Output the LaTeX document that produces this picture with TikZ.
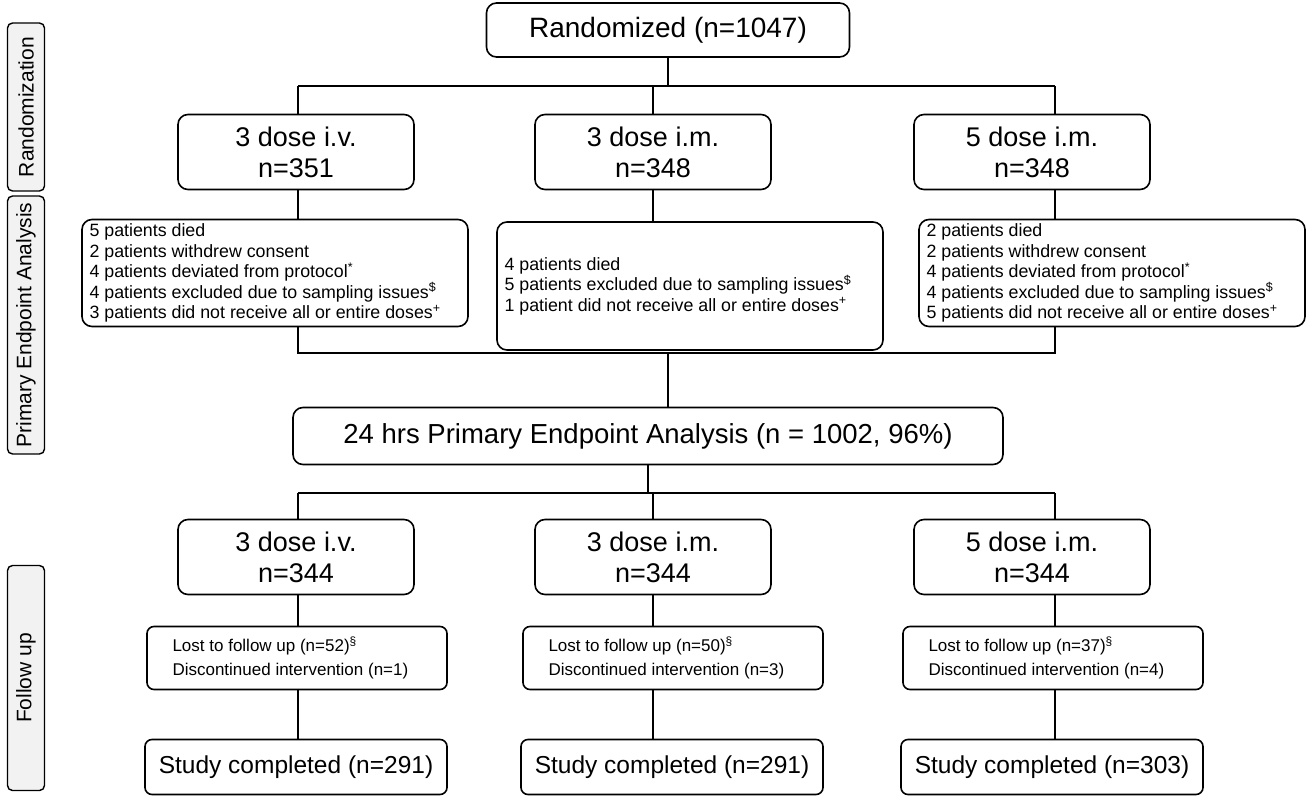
\documentclass[tikz,border=0pt]{standalone}
\usepackage{fontspec}
\setmainfont{Liberation Sans}
\begin{document}
\begin{tikzpicture}[x=1pt,y=-1pt,
  bx/.style={draw,line width=1.6pt,rounded corners=10pt,fill=white},
  side/.style={draw,line width=1.4pt,rounded corners=5pt,fill=gray!10},
  ln/.style={line width=2.6pt},
  big/.style={font=\fontsize{27}{31}\selectfont,align=center},
  sl/.style={rotate=90,font=\fontsize{21}{26}\selectfont},
  ex/.style={font=\fontsize{17.8}{20.5}\selectfont,align=left,anchor=west}]
\useasboundingbox (0,0) rectangle (1311,800);
% side labels
\node[side,minimum width=168,minimum height=37,rotate=90] (s1) at (26,107) {};
\node[sl] (t1) at (26,107) {Randomization};
\node[side,minimum width=258,minimum height=37,rotate=90] (s2) at (26,325) {};
\node[sl] (t2) at (26,325) {Primary Endpoint Analysis};
\node[side,minimum width=225,minimum height=37,rotate=90] (s3) at (26,678) {};
\node[sl] (t3) at (26,678) {Follow up};
% coordinates
\coordinate (j1) at (668,86);
\coordinate (L1) at (298,86); \coordinate (R1) at (1055,86);
\coordinate (j2) at (668,353);
\coordinate (L2) at (298,353); \coordinate (R2) at (1055,353);
\coordinate (j3) at (648,493);
\coordinate (L3) at (298,493); \coordinate (R3) at (1055,493);
\coordinate (M1) at (653,86); \coordinate (M3) at (653,493);
% lines first
\draw[ln] (668,57) -- (j1);
\draw[ln] (L1) -- (R1);
\draw[ln] (L1) -- (298,220); \draw[ln] (M1) -- (653,222); \draw[ln] (R1) -- (1055,220);
\draw[ln] (298,325) -- (L2) -- (R2) -- (1055,325);
\draw[ln] (j2) -- (668,408);
\draw[ln] (648,465) -- (j3);
\draw[ln] (L3) -- (R3);
\draw[ln] (L3) -- (298,767); \draw[ln] (M3) -- (653,767); \draw[ln] (R3) -- (1055,767);
% boxes
\node[bx,minimum width=363,minimum height=54] (rand) at (668,30) {};
\node[font=\fontsize{28}{32}\selectfont] at (rand) {Randomized (n=1047)};
\foreach \n/\x/\t/\m in {a/296/3 dose i.v./351, b/653/3 dose i.m./348, c/1032/5 dose i.m./348}{
  \node[bx,minimum width=236,minimum height=75] (g\n) at (\x,152) {};
  \node[big] at (g\n) {\t\\n=\m};
}
\node[bx,minimum width=386,minimum height=107] (ea) at (275,273) {};
\node[ex] at (86,273) {5 patients died\\2 patients withdrew consent\\4 patients deviated from protocol\textsuperscript{*}\\4 patients excluded due to sampling issues\textsuperscript{\$}\\3 patients did not receive all or entire doses\textsuperscript{+}};
\node[bx,minimum width=386,minimum height=128] (eb) at (690,286) {};
\node[ex] at (501,286) {4 patients died\\5 patients excluded due to sampling issues\textsuperscript{\$}\\1 patient did not receive all or entire doses\textsuperscript{+}};
\node[bx,minimum width=386,minimum height=107] (ec) at (1112,273) {};
\node[ex] at (923,273) {2 patients died\\2 patients withdrew consent\\4 patients deviated from protocol\textsuperscript{*}\\4 patients excluded due to sampling issues\textsuperscript{\$}\\5 patients did not receive all or entire doses\textsuperscript{+}};
\node[bx,minimum width=710,minimum height=57] (pe) at (648,436) {};
\node[font=\fontsize{27.5}{31}\selectfont] at (pe) {24 hrs Primary Endpoint Analysis (n = 1002, 96\%)};
\foreach \n/\x/\t in {a/296/3 dose i.v., b/653/3 dose i.m., c/1032/5 dose i.m.}{
  \node[bx,minimum width=236,minimum height=75] (f\n) at (\x,557) {};
  \node[big] at (f\n) {\t\\n=344};
}
\foreach \n/\x/\l/\d/\c in {a/297/52/1/291, b/673/50/3/291, c/1053/37/4/303}{
  \node[bx,rounded corners=7pt,minimum width=300,minimum height=63] (l\n) at (\x,658) {};
  \node[ex,font=\fontsize{17}{23.5}\selectfont] at (\x-128,658) {Lost to follow up (n=\l)\textsuperscript{\S}\\Discontinued intervention (n=\d)};
  \node[bx,rounded corners=7pt,minimum width=302,minimum height=55] (c\n) at (\x-1,767) {};
  \node[font=\fontsize{24.5}{28}\selectfont] at (c\n) {Study completed (n=\c)};
}
\end{tikzpicture}
\end{document}
